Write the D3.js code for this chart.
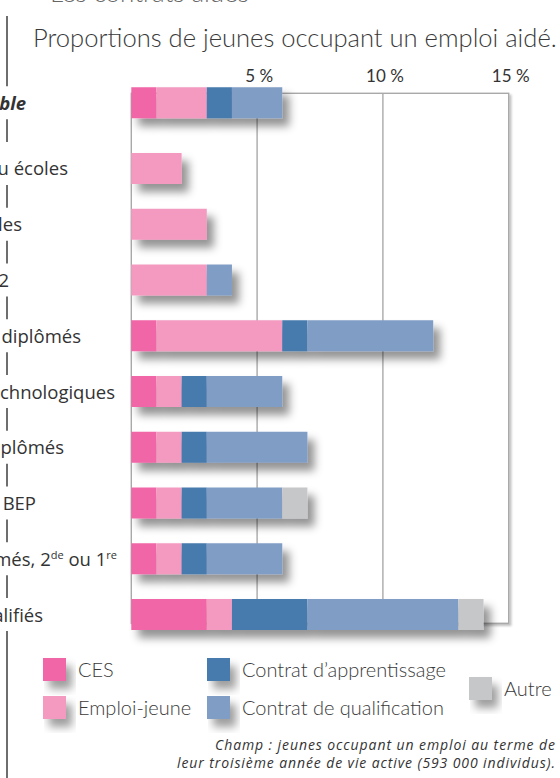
<!DOCTYPE html>
<html>
<head>
<meta charset="utf-8">
<script src="https://cdn.jsdelivr.net/npm/d3@7"></script>
<style>
  html, body { margin: 0; padding: 0; background: #fff; }
  svg { display: block; }
</style>
</head>
<body>
<svg id="chart" width="560" height="778"></svg>
<script>
// Niveaux de sortie (Ensemble en tête)
const categories = [
  "Ensemble",
  "Bac+5, 3e cycle ou écoles",
  "Bac+3 et 4, autres écoles",
  "Bac+2",
  "Bac+1 ou bac+2 non diplômés",
  "Bac professionnels ou technologiques",
  "Niveau bac non diplômés",
  "CAP ou BEP",
  "CAP ou BEP non diplômés, 2de ou 1re",
  "Non qualifiés"
];

// Part de chaque type d'emploi aidé (en %)
const ces           = [1, 0, 0, 0, 1, 1, 1, 1, 1, 3];
const emploiJeune   = [2, 2, 3, 3, 5, 1, 1, 1, 1, 1];
const apprentissage = [1, 0, 0, 0, 1, 1, 1, 1, 1, 3];
const qualification = [2, 0, 0, 1, 5, 3, 4, 3, 3, 6];
const autre         = [0, 0, 0, 0, 0, 0, 0, 1, 0, 1];

const seriesNames = ["CES", "Emploi-jeune", "Contrat d’apprentissage", "Contrat de qualification", "Autre"];
const seriesColors = ["#f066a6", "#f49ac1", "#477aad", "#809dc5", "#c6c7c9"];
const tickValues = [5, 10, 15];

const rows = categories.map((c, i) => ({
  cat: c,
  "CES": ces[i],
  "Emploi-jeune": emploiJeune[i],
  "Contrat d’apprentissage": apprentissage[i],
  "Contrat de qualification": qualification[i],
  "Autre": autre[i]
}));

const svg = d3.select("#chart");
const labelFont = "'Open Sans', Lato, sans-serif";
const lightFont = "Lato, 'Open Sans', sans-serif";

// Ombres portées
const defs = svg.append("defs");
function shadow(id, dx, dy, sd, op) {
  const f = defs.append("filter").attr("id", id)
    .attr("x", "-20%").attr("y", "-40%").attr("width", "160%").attr("height", "200%");
  f.append("feGaussianBlur").attr("in", "SourceAlpha").attr("stdDeviation", sd).attr("result", "b");
  f.append("feOffset").attr("in", "b").attr("dx", dx).attr("dy", dy).attr("result", "o");
  f.append("feFlood").attr("flood-color", "#000").attr("flood-opacity", op).attr("result", "c");
  f.append("feComposite").attr("in", "c").attr("in2", "o").attr("operator", "in").attr("result", "s");
  const m = f.append("feMerge");
  m.append("feMergeNode").attr("in", "s");
  m.append("feMergeNode").attr("in", "SourceGraphic");
}
shadow("barShadow", 7, 8, 4.5, 0.42);
shadow("boxShadow", 2, 2, 1.2, 0.25);
shadow("keyShadow", 6, 8, 4, 0.38);

// Échelles
const x = d3.scaleLinear().domain([0, 15]).range([131.3, 508.7]);
const y = d3.scaleBand().domain(categories).range([97.25, 630]).paddingInner(0.444).paddingOuter(0);
const groupGap = 10; // "Ensemble" détaché du reste
const yPos = c => y(c) - (c === categories[0] ? groupGap : 0);
const color = d3.scaleOrdinal().domain(seriesNames).range(seriesColors);

// Filet vertical à gauche, interrompu par les libellés
const frameTop = 16, frameBottom = 778;
const gaps = categories.map((c, i) => {
  const top = yPos(c) - 1 - (i === 1 ? 10 : 0);
  return [top, yPos(c) + y.bandwidth() + 1];
});
let cursor = frameTop;
const segs = [];
gaps.forEach(g => { segs.push([cursor, g[0]]); cursor = g[1]; });
segs.push([cursor, frameBottom]);
svg.append("g").selectAll("line").data(segs).join("line")
  .attr("x1", 7).attr("x2", 7)
  .attr("y1", d => d[0]).attr("y2", d => d[1])
  .attr("stroke", "#4a4a4a").attr("stroke-width", 1.6);

// Ligne de titre supérieure (coupée)
svg.append("text")
  .attr("x", 50).attr("y", 1.5)
  .attr("font-family", lightFont).attr("font-weight", 300)
  .attr("font-size", 26).attr("fill", "#666")
  .text("Les contrats aidés");

// Titre
const title = svg.append("text")
  .attr("x", 33).attr("y", 47)
  .attr("font-family", lightFont).attr("font-weight", 300)
  .attr("font-size", 26).attr("fill", "#3a3a3a")
  .text("Proportions de jeunes occupant un emploi aidé.");
const tw = title.node().getComputedTextLength();
title.attr("font-size", 26 * 524 / tw);

// Cadre et grille
const boxTop = 93.3, boxBottom = 623.3;
svg.append("rect")
  .attr("x", x(0)).attr("y", boxTop)
  .attr("width", x(15) - x(0)).attr("height", boxBottom - boxTop)
  .attr("fill", "#fff").attr("stroke", "#a9a9a9").attr("stroke-width", 1.4)
  .attr("filter", "url(#boxShadow)");
svg.append("g").selectAll("line").data(tickValues.filter(t => t < 15)).join("line")
  .attr("x1", d => x(d)).attr("x2", d => x(d))
  .attr("y1", boxTop).attr("y2", boxBottom)
  .attr("stroke", "#a9a9a9").attr("stroke-width", 1.4);

// Graduations
const axis = d3.axisTop(x).tickValues(tickValues).tickSize(0).tickPadding(0)
  .tickFormat(d => d + " %");
const ax = svg.append("g").attr("transform", "translate(1.5,82)").call(axis);
ax.select(".domain").remove();
ax.selectAll("text")
  .attr("dy", 0)
  .attr("font-family", lightFont).attr("font-size", 17).attr("fill", "#333");

// Barres empilées
const stack = d3.stack().keys(seriesNames)(rows);
const rowG = svg.append("g").selectAll("g").data(rows).join("g")
  .attr("filter", "url(#barShadow)");
rowG.each(function(r, i) {
  const g = d3.select(this);
  stack.forEach(s => {
    const d = s[i];
    if (d[1] - d[0] <= 0) return;
    g.append("rect")
      .attr("x", x(d[0])).attr("y", yPos(r.cat))
      .attr("width", x(d[1]) - x(d[0])).attr("height", y.bandwidth())
      .attr("fill", color(s.key));
  });
});

// Libellés des lignes
const labelEnds = [26, 68, 22, 9, 81, 115, 64, 36, 117, 43];
const labels = svg.append("g").selectAll("text").data(categories).join("text")
  .attr("x", (d, i) => labelEnds[i])
  .attr("y", d => yPos(d) + y.bandwidth() / 2 + 7)
  .attr("text-anchor", "end")
  .attr("font-family", labelFont).attr("font-size", 18.5).attr("fill", "#333")
  .attr("font-weight", (d, i) => i === 0 ? 700 : 400)
  .attr("font-style", (d, i) => i === 0 ? "italic" : "normal");
labels.each(function(d) {
  const t = d3.select(this);
  const parts = d.split(/(2de|1re)/).filter(p => p);
  let raised = false;
  parts.forEach(p => {
    const m = p.match(/^(\d)(de|re)$/);
    if (m) {
      t.append("tspan").attr("dy", raised ? 7 : null).text(m[1]);
      t.append("tspan").attr("font-size", 11).attr("dy", -7).text(m[2]);
      raised = true;
    } else {
      t.append("tspan").attr("dy", raised ? 7 : null).text(p);
      raised = false;
    }
  });
});

// Légende
const legendCols = [43, 207, 469];
const legendItems = [
  { name: "CES", col: 0, row: 0 },
  { name: "Emploi-jeune", col: 0, row: 1 },
  { name: "Contrat d’apprentissage", col: 1, row: 0 },
  { name: "Contrat de qualification", col: 1, row: 1 },
  { name: "Autre", col: 2, row: 0.5 }
];
const lg = svg.append("g").selectAll("g").data(legendItems).join("g")
  .attr("transform", d => `translate(${legendCols[d.col]},${658 + d.row * 38})`);
lg.append("rect").attr("width", 23).attr("height", 23)
  .attr("fill", d => color(d.name)).attr("filter", "url(#keyShadow)");
lg.append("text").attr("x", 35).attr("y", 19)
  .attr("font-family", lightFont).attr("font-weight", 300)
  .attr("font-size", 20).attr("fill", "#3a3a3a")
  .text(d => d.name);

// Champ
const note = ["Champ : jeunes occupant un emploi au terme de",
              "leur troisième année de vie active (593 000 individus)."];
const noteWidths = [340, 378];
svg.append("g").selectAll("text").data(note).join("text")
  .attr("x", 555).attr("y", (d, i) => 750 + i * 18)
  .attr("text-anchor", "end")
  .attr("font-family", labelFont).attr("font-style", "italic")
  .attr("font-size", 14).attr("fill", "#333")
  .attr("textLength", (d, i) => noteWidths[i])
  .attr("lengthAdjust", "spacing")
  .text(d => d);
</script>
</body>
</html>
